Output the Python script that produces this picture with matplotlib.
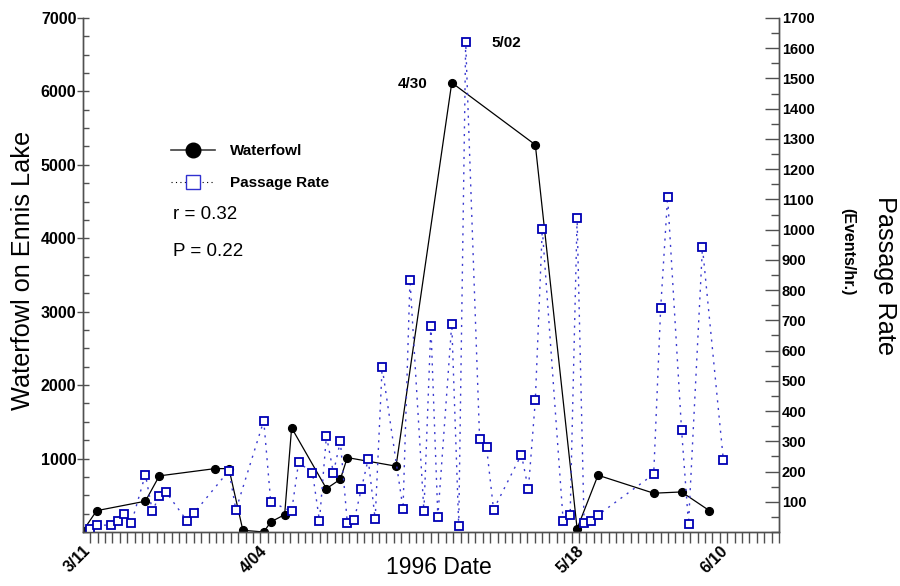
import numpy as np
import matplotlib
matplotlib.use('Agg')
import matplotlib.pyplot as plt
from matplotlib.lines import Line2D
from matplotlib.ticker import MultipleLocator, FixedLocator

plt.rcParams['font.family'] = ['Liberation Sans', 'DejaVu Sans']

# days counted from 3/11/1996
fowl_day = [-3, -1, 6, 8, 16, 18, 20, 23, 24, 26, 27, 32, 34, 35, 42,
            50, 62, 68, 71, 79, 83, 87]
fowl_count = [10, 290, 419, 764, 863, 863, 23, 0, 136, 236, 1418, 590, 718,
              1013, 896, 6119, 5273, 45, 773, 528, 545, 290]

rate_day = [-2, -1, 1, 2, 3, 4, 6, 7, 8, 9, 12, 13, 18, 19, 23, 24, 27, 28,
            30, 31, 32, 33, 34, 35, 36, 37, 38, 39, 40, 43, 44, 46, 47, 48,
            50, 51, 52, 54, 55, 56, 60, 61, 62, 63, 66, 67, 68, 69, 70, 71,
            79, 80, 81, 83, 84, 86, 89]
rate_val = [9, 22, 23, 37, 60, 30, 190, 69, 119, 131, 36, 63, 203, 73, 368,
            100, 68, 230, 196, 37, 318, 196, 300, 30, 41, 141, 241, 42, 545,
            77, 834, 69, 681, 50, 689, 20, 1621, 306, 280, 74, 256, 141, 435,
            1003, 36, 55, 1038, 31, 37, 56, 191, 740, 1108, 338, 27, 942, 239]

date_ticks = [-3.0, 22.4, 67.9, 88.6]
date_labels = ['3/11', '4/04', '5/18', '6/10']

spine_col = '#505050'
blue = '#0000b4'

fig = plt.figure(figsize=(9, 5.86), dpi=100)
ax = fig.add_axes([0.0919, 0.0922, 0.7737, 0.8771])
ax2 = ax.twinx()

ax.plot(fowl_day, fowl_count, color='black', lw=0.9, marker='o', ms=5.6,
        mfc='black', mec='black')
ax2.plot(rate_day, rate_val, color='#3a3ad0', lw=1.0, ls=(0, (1.5, 4)),
         marker='s', ms=5.2, mfc='white', mec=blue, mew=1.3)

ax.set_xlim(-3, 97)
ax.set_ylim(0, 7000)
ax2.set_ylim(0, 1700)

for a in (ax, ax2):
    a.spines['top'].set_visible(False)
    for s in ('left', 'right', 'bottom'):
        a.spines[s].set_color(spine_col)
        a.spines[s].set_linewidth(1.0)

# left axis
ax.yaxis.set_major_locator(FixedLocator(range(1000, 7001, 1000)))
ax.yaxis.set_minor_locator(MultipleLocator(250))
ax.tick_params(axis='y', which='major', direction='inout', length=8, width=1,
               color=spine_col, pad=0.5, labelsize=11.5)
ax.tick_params(axis='y', which='minor', direction='in', length=4, width=1,
               color=spine_col)
for t in ax.get_yticklabels():
    t.set_fontweight('bold')

# right axis
ax2.yaxis.set_major_locator(FixedLocator(range(100, 1701, 100)))
ax2.yaxis.set_minor_locator(MultipleLocator(50))
ax2.tick_params(axis='y', which='major', direction='in', length=10, width=1,
                color=spine_col, pad=2, labelsize=10.5)
ax2.tick_params(axis='y', which='minor', direction='in', length=6, width=1,
                color=spine_col)
for t in ax2.get_yticklabels():
    t.set_fontweight('bold')

# x axis
ax.xaxis.set_minor_locator(FixedLocator(np.linspace(-3, 97, 95)))
ax.set_xticks(date_ticks)
ax.set_xticklabels(date_labels, rotation=45, ha='right',
                   rotation_mode='anchor', fontweight='bold', fontsize=11.5)
ax.tick_params(axis='x', which='major', length=0, pad=8)
ax.tick_params(axis='x', which='minor', direction='out', length=8, width=1,
               color=spine_col)

fig.text(439 / 900, 1 - 568 / 586, '1996 Date', fontsize=16.5,
         ha='center', va='center')
fig.text(23 / 900, 1 - 270 / 586, 'Waterfowl on Ennis Lake', fontsize=18.2,
         rotation=90, ha='center', va='center')
fig.text(885 / 900, 1 - 275 / 586, 'Passage Rate', fontsize=18.2,
         rotation=-90, ha='center', va='center')
fig.text(848 / 900, 1 - 252 / 586, '(Events/hr.)', rotation=-90,
         fontsize=11.5, fontweight='bold', ha='center', va='center')

# annotations
ax.text(42.2, 6100, '4/30', fontsize=11, fontweight='bold', va='center')
ax.text(55.7, 6660, '5/02', fontsize=11, fontweight='bold', va='center')
ax.text(9.9, 4325, 'r = 0.32', fontsize=13.5, va='center')
ax.text(9.9, 3815, 'P = 0.22', fontsize=13.5, va='center')

handles = [
    Line2D([], [], color='#404040', lw=1.2, marker='o', ms=10.5,
           mfc='black', mec='black'),
    Line2D([], [], color='black', lw=0.8, ls=(0, (1, 3)), marker='s', ms=10.5,
           mfc='white', mec='#3030d0', mew=1.0),
]
ax.legend(handles, ['Waterfowl', 'Passage Rate'], loc='upper left',
          bbox_to_anchor=(0.1813, 0.7666), bbox_transform=fig.transFigure,
          frameon=False, handlelength=2.9, handletextpad=1.0,
          labelspacing=1.16, borderpad=0, prop={'weight': 'bold', 'size': 11})

fig.savefig('out.png', dpi=100)
